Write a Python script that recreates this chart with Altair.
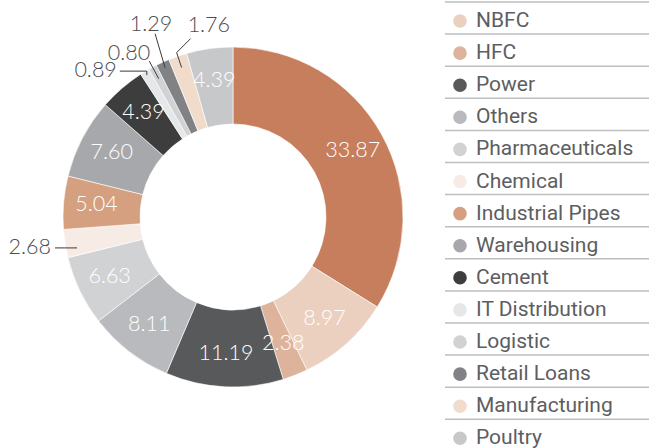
import math
import altair as alt
import pandas as pd

# ---- data ----
categories = ["Sovereign", "NBFC", "HFC", "Power", "Others", "Pharmaceuticals",
              "Chemical", "Industrial Pipes", "Warehousing", "Cement",
              "IT Distribution", "Logistic", "Retail Loans", "Manufacturing", "Poultry"]
values = [33.87, 8.97, 2.38, 11.19, 8.11, 6.63, 2.68, 5.04, 7.60, 4.39,
          0.89, 0.80, 1.29, 1.76, 4.39]
colors = ["#c67e5c", "#ecd0bf", "#ddb39b", "#58595b", "#b9babd", "#d1d2d4",
          "#f6ece5", "#d5a080", "#a7a8ab", "#3d3d3d", "#e6e7e8", "#d1d2d4",
          "#808285", "#f1dccc", "#c7c8ca"]
legend_items = categories[1:]  # first entry sits above the visible area
outside = ["Chemical", "IT Distribution", "Logistic", "Retail Loans", "Manufacturing"]

# ---- layout / style ----
W, H = 649, 448
CX, CY = 233, 217
R_IN, R_OUT, R_LAB = 93, 170, 137
NUM_FONT = "Lato"
LEG_FONT = "Roboto"
TXT_DARK = "#4d4d4f"
NUM_SIZE = 21.5

# leader layout: angle shift (deg), start radius, segments (dx, dy), label offset, align, baseline
leaders = {
    "IT Distribution": (0, 166, [(0, -4), (-27, 0)], (-3, 0), "right", "middle"),
    "Logistic": (0, 157, [(-9.5, -17.6)], (1, -1), "right", "alphabetic"),
    "Retail Loans": (0, 164, [(-10, -34)], (-4, -3), "center", "alphabetic"),
    "Manufacturing": (0, 158, [(-5, -15), (14, -14)], (-3, -6.6), "left", "alphabetic"),
    "Chemical": (-2.2, 159, [(-22, 0)], (-4, 0), "right", "middle"),
}

total = sum(values)
df = pd.DataFrame({
    "cat": categories,
    "value": values,
    "idx": list(range(len(categories))),
})
df["inlabel"] = [("" if c in outside else f"{v:.2f}") for c, v in zip(categories, values)]

# mid angles for outside labels
cum = 0.0
mids = {}
for c, v in zip(categories, values):
    mids[c] = (cum + v / 2) / total * 360.0
    cum += v

line_rows, lab_rows = [], []
for c in outside:
    shift, r0, segs, off, align, base = leaders[c]
    a = math.radians(mids[c] + shift)
    x = CX + r0 * math.sin(a)
    y = CY - r0 * math.cos(a)
    pts = [(x, y)]
    for dx, dy in segs:
        x, y = x + dx, y + dy
        pts.append((x, y))
    for k, (px, py) in enumerate(pts):
        line_rows.append({"cat": c, "k": k, "px": px, "py": py})
    v = values[categories.index(c)]
    lab_rows.append({"cat": c, "label": f"{v:.2f}", "px": x + off[0], "py": y + off[1],
                     "align": align, "base": base})
lines_df = pd.DataFrame(line_rows)
labs_df = pd.DataFrame(lab_rows)

leg_df = pd.DataFrame({
    "cat": legend_items,
    "row": list(range(len(legend_items))),
})
leg_df["rowline"] = leg_df["row"] - 19.0 / 32.1

color_scale = alt.Scale(domain=categories, range=colors)

base = alt.Chart(df)
arcs = base.mark_arc(innerRadius=R_IN, outerRadius=R_OUT, stroke="#ffffff", strokeWidth=0.6).encode(
    theta=alt.Theta("value:Q", stack=True),
    color=alt.Color("cat:N", scale=color_scale, legend=None),
    order=alt.Order("idx:Q"),
    x=alt.value(CX), y=alt.value(CY),
)
inlabels = base.mark_text(radius=R_LAB, font=NUM_FONT, fontWeight=300, fontSize=NUM_SIZE,
                          color="#ffffff", align="center", baseline="middle").encode(
    theta=alt.Theta("value:Q", stack=True),
    detail="cat:N",
    order=alt.Order("idx:Q"),
    text="inlabel:N",
    x=alt.value(CX), y=alt.value(CY),
)

leader_lines = alt.Chart(lines_df).mark_line(color="#3a3a3c", strokeWidth=1).encode(
    x=alt.X("px:Q", scale=None),
    y=alt.Y("py:Q", scale=None),
    detail="cat:N",
    order="k:Q",
)

out_layers = []
for align in ["left", "center", "right"]:
    for bl in ["middle", "alphabetic"]:
        sub = labs_df[(labs_df["align"] == align) & (labs_df["base"] == bl)]
        if len(sub) == 0:
            continue
        out_layers.append(alt.Chart(sub).mark_text(font=NUM_FONT, fontWeight=300, fontSize=NUM_SIZE,
                                                   color=TXT_DARK, align=align, baseline=bl).encode(
            x=alt.X("px:Q", scale=None),
            y=alt.Y("py:Q", scale=None),
            text="label:N",
        ))

d0 = -21 / 32.1
d1 = d0 + H / 32.1
yscale = alt.Scale(domain=[d0, d1], reverse=True, zero=False, nice=False)

leg_lines = alt.Chart(leg_df).mark_rule(color="#bcbec0", strokeWidth=1.5).encode(
    x=alt.value(445), x2=alt.value(W),
    y=alt.Y("rowline:Q", scale=yscale, axis=None),
)
leg_dots = alt.Chart(leg_df).mark_point(shape="circle", filled=True, size=185, opacity=1).encode(
    x=alt.value(460),
    y=alt.Y("row:Q", scale=yscale, axis=None),
    color=alt.Color("cat:N", scale=color_scale, legend=None),
)
leg_text = alt.Chart(leg_df).mark_text(font=LEG_FONT, fontWeight=400, fontSize=21, color="#5d5e60",
                                       align="left", baseline="middle").encode(
    x=alt.value(476),
    y=alt.Y("row:Q", scale=yscale, axis=None),
    text="cat:N",
)

chart = alt.layer(arcs, inlabels, leader_lines, *out_layers, leg_lines, leg_dots, leg_text).resolve_scale(
    y="independent", x="independent"
).properties(
    width=W, height=H, padding=0,
    autosize=alt.AutoSizeParams(type="none"),
).configure_view(stroke=None)

chart.save("out.html", embed_options={"renderer": "svg", "actions": False})
